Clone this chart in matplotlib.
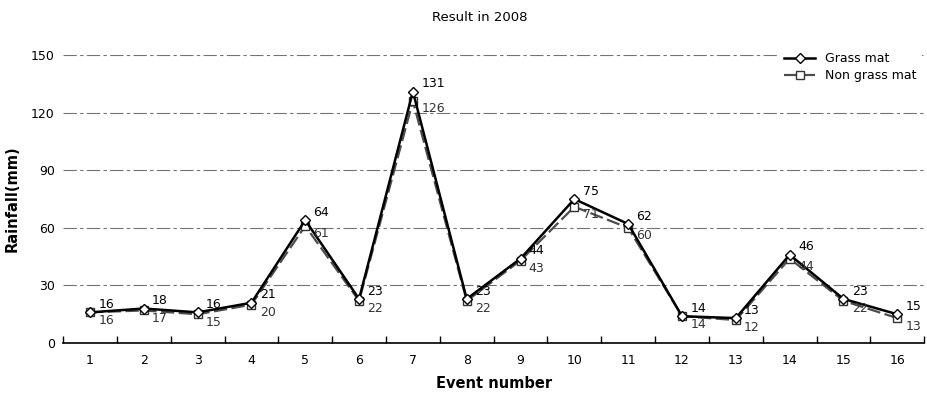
import matplotlib.pyplot as plt
import numpy as np

events = np.arange(1, 17)
grass = [16, 18, 16, 21, 64, 23, 131, 23, 44, 75, 62, 14, 13, 46, 23, 15]
non_grass = [16, 17, 15, 20, 61, 22, 126, 22, 43, 71, 60, 14, 12, 44, 22, 13]
yticks = [0, 30, 60, 90, 120, 150]

fig = plt.figure(figsize=(9.27, 3.93), dpi=100)
ax = fig.add_axes([0.068, 0.127, 0.929, 0.733])

for y in yticks[1:]:
    ax.axhline(y, color='0.45', linewidth=0.8, linestyle=(0, (12, 3, 3, 3)), zorder=0)

ax.plot(events, non_grass, color='0.3', linewidth=1.6, linestyle=(0, (6, 2)),
        marker='s', markersize=6, markerfacecolor='white', markeredgecolor='0.2',
        markeredgewidth=1.0, label='Non grass mat', zorder=2)
ax.plot(events, grass, color='black', linewidth=1.8,
        marker='D', markersize=5, markerfacecolor='white', markeredgecolor='black',
        markeredgewidth=1.0, label='Grass mat', zorder=3)

for x, g, n in zip(events, grass, non_grass):
    ax.annotate(str(g), (x, g), xytext=(6, 1), textcoords='offset points',
                fontsize=9, color='black', va='bottom', ha='left')
    ax.annotate(str(n), (x, n), xytext=(6, -1), textcoords='offset points',
                fontsize=9, color='0.2', va='top', ha='left')

ax.set_xlim(0.5, 16.5)
ax.set_ylim(0, 150)
ax.set_yticks(yticks)
ax.set_xticks(events)
ax.set_xticks(np.arange(0.5, 17, 1), minor=True)
ax.tick_params(axis='x', which='major', length=0, pad=8, labelsize=9)
ax.tick_params(axis='x', which='minor', length=5, direction='in', width=1)
ax.tick_params(axis='y', length=0, pad=6, labelsize=9)

for s in ['top', 'right', 'left']:
    ax.spines[s].set_visible(False)
ax.spines['bottom'].set_linewidth(1.2)

ax.set_xlabel('Event number', fontsize=10.5, fontweight='bold', labelpad=6)
ax.set_ylabel('Rainfall(mm)', fontsize=10.5, fontweight='bold', labelpad=8)
fig.text(0.518, 0.955, 'Result in 2008', ha='center', va='center', fontsize=9.5)

handles, labels = ax.get_legend_handles_labels()
leg = ax.legend(handles[::-1], labels[::-1], loc='upper right', bbox_to_anchor=(1.0, 1.035),
                frameon=True, fontsize=9, handlelength=2.5, labelspacing=0.3,
                borderaxespad=0.2, fancybox=False)
leg.get_frame().set_edgecolor('none')
leg.get_frame().set_facecolor('white')
leg.get_frame().set_alpha(1)

fig.savefig('out.png', dpi=100)
